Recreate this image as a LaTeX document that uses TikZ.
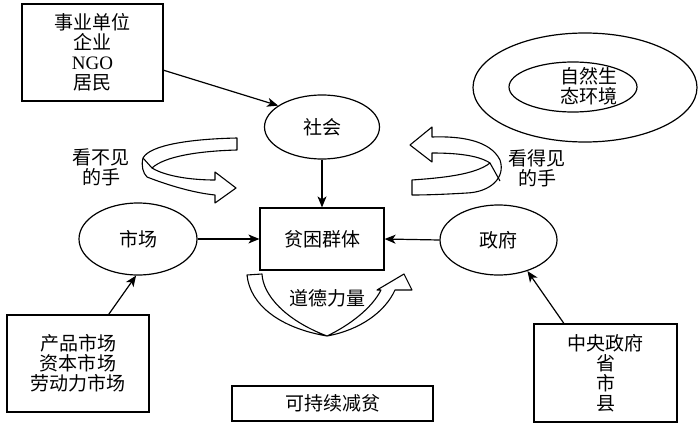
\documentclass[tikz,border=0pt]{standalone}
\usepackage{fontspec}
\setmainfont{Noto Sans CJK SC}
\newfontfamily\latserif{Liberation Serif}
\usetikzlibrary{shapes.geometric,arrows.meta}
\begin{document}
\begin{tikzpicture}[x=1pt,y=-1pt,
  every node/.style={font=\fontsize{19}{20}\selectfont},
  box/.style={draw,line width=1.2pt,rectangle,inner sep=0pt,align=center},
  oval/.style={draw,line width=1.2pt,ellipse,inner sep=0pt},
  arr/.style={line width=1.2pt,-{Stealth[length=11pt,width=9pt,inset=3pt]}},
  ribbon/.style={draw,line width=1.1pt,fill=white,line join=round},
  lbl/.style={align=center,inner sep=0pt}
]
\useasboundingbox (0,0) rectangle (700,425);

% nodes
\node[box,minimum width=141pt,minimum height=97pt] (tl) at (92.5,52.5) {事业单位\\企业\\{\latserif NGO}\\居民};
\node[oval,minimum width=115pt,minimum height=64pt] (she) at (322,127) {社会};
\node[box,minimum width=124pt,minimum height=62pt] (pov) at (322,239) {贫困群体};
\node[oval,minimum width=118pt,minimum height=72pt] (mkt) at (138,239) {市场};
\node[oval,minimum width=117pt,minimum height=70pt] (gov) at (498.5,240) {政府};
\node[box,minimum width=142pt,minimum height=97pt] (bl) at (78,363.5) {产品市场\\资本市场\\劳动力市场};
\node[box,minimum width=143pt,minimum height=98pt] (br) at (605.5,373) {中央政府\\省\\市\\县};
\node[box,minimum width=201pt,minimum height=35pt] (sus) at (332.5,403.5) {可持续减贫};
\node[oval,minimum width=224pt,minimum height=109pt] (outer) at (585,87.5) {};
\node[oval,minimum width=128pt,minimum height=50pt] (inner) at (573,87) {};
\node[lbl] (nat) at (589,86) {自然生\\态环境};

% connectors
\draw[arr] (tl.-14) -- (she.154);
\draw[arr] (she.south) -- (pov.north);
\draw[arr] (mkt.east) -- (pov.west);
\draw[arr] (gov.west) -- (pov.east);
\draw[arr] (bl.58) -- (mkt.267);
\draw[arr] (br.130) -- (gov.-47);

% left ribbon arrow (invisible hand)
\path[ribbon] (237,138) .. controls (190,139) and (150,145) .. (143,158)
  .. controls (141,166) and (143,173) .. (147,177)
  .. controls (170,186) and (195,193) .. (215,195)
  -- (215,203) -- (236,188) -- (215,172) -- (215,180)
  .. controls (190,180) and (165,176) .. (152,168)
  .. controls (165,156) and (200,151) .. (237,150) -- cycle;
\draw[line width=1.1pt] (143,158) -- (152,168);

% right ribbon arrow (visible hand)
\path[ribbon] (412,180) .. controls (440,178) and (475,175) .. (490,163)
  .. controls (478,155) and (455,153) .. (432,153)
  -- (432,162) -- (410,145) -- (432,127) -- (432,137)
  .. controls (460,136) and (490,140) .. (500,160)
  .. controls (506,178) and (490,192) .. (467,193)
  .. controls (450,194) and (430,195) .. (412,195) -- cycle;
\draw[line width=1.1pt] (490,163) -- (500,181);

% bottom ribbon arrow (moral force)
\path[ribbon] (247,275) -- (262,274)
  .. controls (263,295) and (285,320) .. (327,336)
  .. controls (350,325) and (372,308) .. (381,290)
  -- (377,290) -- (404,274) -- (412,290) -- (395,290)
  .. controls (385,312) and (360,330) .. (327,336)
  .. controls (280,328) and (250,305) .. (247,275) -- cycle;

% labels drawn last
\node[lbl] (invis) at (101,167) {看不见\\的手};
\node[lbl] (vis) at (537,168) {看得见\\的手};
\node[lbl] (moral) at (327,298) {道德力量};

\end{tikzpicture}
\end{document}
